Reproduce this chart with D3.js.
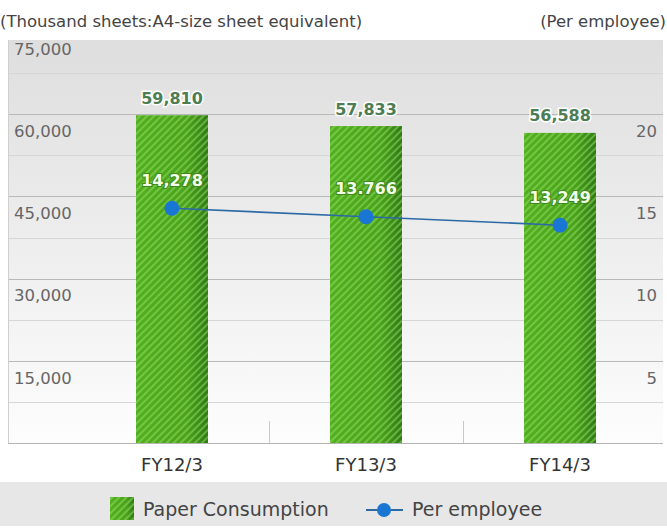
<!DOCTYPE html>
<html>
<head>
<meta charset="utf-8">
<script src="https://cdn.jsdelivr.net/npm/d3@7"></script>
<style>
  body { margin: 0; background: #fff; }
  svg { display: block; font-family: "DejaVu Sans", sans-serif; }
</style>
</head>
<body>
<svg width="667" height="528"></svg>
<script>
// bars = paper consumption (thousand sheets), line = per employee
let categories = ['FY12/3', 'FY13/3', 'FY14/3'];
let paper = [59810, 57833, 56588];
let perEmployee = [14.278, 13.766, 13.249];
let perLabels = ['14,278', '13.766', '13,249'];
let leftTicks = [15000, 30000, 45000, 60000, 75000];
let rightTicks = [5, 10, 15, 20];

let width = 667;
let plotLeft = 8, plotRight = 663, plotTop = 40, plotBottom = 443;

let svg = d3.select('svg');
let defs = svg.append('defs');

let bg = defs.append('linearGradient').attr('id', 'bg')
  .attr('x1', 0).attr('y1', 0).attr('x2', 0).attr('y2', 1);
bg.append('stop').attr('offset', '0%').attr('stop-color', '#dedede');
bg.append('stop').attr('offset', '100%').attr('stop-color', '#fdfdfd');

let barGrad = defs.append('linearGradient').attr('id', 'barGrad')
  .attr('x1', 0).attr('y1', 0).attr('x2', 1).attr('y2', 0);
barGrad.append('stop').attr('offset', '0%').attr('stop-color', '#52b01f');
barGrad.append('stop').attr('offset', '70%').attr('stop-color', '#4aa31b');
barGrad.append('stop').attr('offset', '100%').attr('stop-color', '#2f7a16');

let hatch = defs.append('pattern').attr('id', 'hatch')
  .attr('patternUnits', 'userSpaceOnUse')
  .attr('width', 5).attr('height', 5)
  .attr('patternTransform', 'rotate(45)');
hatch.append('line')
  .attr('x1', 1).attr('y1', 0).attr('x2', 1).attr('y2', 5)
  .attr('stroke', '#9be06a').attr('stroke-width', 1.3).attr('stroke-opacity', 0.75);

let x = d3.scaleBand()
  .domain(categories)
  .range([75, 657])
  .paddingInner(0.629)
  .paddingOuter(0.3145);

let y = d3.scaleLinear().domain([0, 75000]).range([plotBottom, 32]);
let y2 = d3.scaleLinear().domain([0, 25]).range([plotBottom, 32]);

// plot background
svg.append('rect')
  .attr('x', plotLeft).attr('y', plotTop)
  .attr('width', plotRight - plotLeft).attr('height', plotBottom - plotTop)
  .attr('fill', 'url(#bg)');

// grid lines every 7,500 (major at labelled ticks)
let grid = d3.range(7500, 75000, 7500);
svg.append('g').selectAll('line')
  .data(grid)
  .enter()
  .append('line')
  .attr('x1', plotLeft).attr('x2', plotRight)
  .attr('y1', d => Math.round(y(d)) + 0.5)
  .attr('y2', d => Math.round(y(d)) + 0.5)
  .attr('stroke', d => d % 15000 === 0 ? '#b9b9b9' : '#d6d6d6')
  .attr('stroke-width', 1);

svg.append('line')
  .attr('x1', plotLeft + 0.5).attr('x2', plotLeft + 0.5)
  .attr('y1', plotTop).attr('y2', plotBottom)
  .attr('stroke', '#cfcfcf');

// left axis labels
svg.append('g').selectAll('text')
  .data(leftTicks)
  .enter()
  .append('text')
  .attr('x', 14)
  .attr('y', d => y(d) + 17)
  .attr('dy', '0.35em')
  .style('font-size', '16.5px')
  .style('fill', '#666')
  .text(d => d3.format(',')(d));

// right axis labels
svg.append('g').selectAll('text')
  .data(rightTicks)
  .enter()
  .append('text')
  .attr('x', 657)
  .attr('y', d => y2(d) + 17)
  .attr('dy', '0.35em')
  .style('text-anchor', 'end')
  .style('font-size', '16.5px')
  .style('fill', '#666')
  .text(d => d);

// axis titles
svg.append('text')
  .attr('x', 0).attr('y', 21)
  .attr('dy', '0.35em')
  .style('font-size', '16.5px')
  .style('fill', '#444')
  .text('(Thousand sheets:A4-size sheet equivalent)');

svg.append('text')
  .attr('x', 666).attr('y', 21)
  .attr('dy', '0.35em')
  .style('text-anchor', 'end')
  .style('font-size', '16.5px')
  .style('fill', '#444')
  .text('(Per employee)');

// bars
let bars = svg.append('g');
bars.selectAll('rect.bar')
  .data(paper)
  .enter()
  .append('rect')
  .attr('class', 'bar')
  .attr('x', (d, i) => x(categories[i]))
  .attr('y', d => y(d))
  .attr('width', x.bandwidth())
  .attr('height', d => plotBottom - y(d))
  .attr('fill', 'url(#barGrad)');
bars.selectAll('rect.hatch')
  .data(paper)
  .enter()
  .append('rect')
  .attr('class', 'hatch')
  .attr('x', (d, i) => x(categories[i]))
  .attr('y', d => y(d))
  .attr('width', x.bandwidth())
  .attr('height', d => plotBottom - y(d))
  .attr('fill', 'url(#hatch)');

// bottom axis line and category dividers
svg.append('line')
  .attr('x1', plotLeft).attr('x2', plotRight)
  .attr('y1', plotBottom + 0.5).attr('y2', plotBottom + 0.5)
  .attr('stroke', '#b5b5b5');

svg.append('g').selectAll('line')
  .data(categories.slice(1))
  .enter()
  .append('line')
  .attr('x1', d => Math.round(x(d) - x.step() * x.paddingInner() / 2) + 0.5)
  .attr('x2', d => Math.round(x(d) - x.step() * x.paddingInner() / 2) + 0.5)
  .attr('y1', plotBottom - 22).attr('y2', plotBottom)
  .attr('stroke', '#c8c8c8');

svg.append('g').selectAll('text')
  .data(categories)
  .enter()
  .append('text')
  .attr('x', d => x(d) + x.bandwidth() / 2)
  .attr('y', 465)
  .attr('dy', '0.35em')
  .style('text-anchor', 'middle')
  .style('font-size', '18px')
  .style('fill', '#333')
  .text(d => d);

// bar value labels
svg.append('g').selectAll('text')
  .data(paper)
  .enter()
  .append('text')
  .attr('x', (d, i) => x(categories[i]) + x.bandwidth() / 2)
  .attr('y', d => y(d) - 17)
  .attr('dy', '0.35em')
  .style('text-anchor', 'middle')
  .style('font-size', '16px')
  .style('font-weight', 'bold')
  .style('fill', '#4c7d55')
  .style('stroke', '#fff')
  .style('stroke-width', 3)
  .style('paint-order', 'stroke')
  .text(d => d3.format(',')(d));

// per employee line
let line = d3.line()
  .x((d, i) => x(categories[i]) + x.bandwidth() / 2)
  .y(d => y2(d));

svg.append('path')
  .datum(perEmployee)
  .attr('d', line)
  .attr('fill', 'none')
  .attr('stroke', '#2c6aa6')
  .attr('stroke-width', 1.6);

svg.append('g').selectAll('circle')
  .data(perEmployee)
  .enter()
  .append('circle')
  .attr('cx', (d, i) => x(categories[i]) + x.bandwidth() / 2)
  .attr('cy', d => y2(d))
  .attr('r', 7.5)
  .attr('fill', '#1976d2');

svg.append('g').selectAll('text')
  .data(perEmployee)
  .enter()
  .append('text')
  .attr('x', (d, i) => x(categories[i]) + x.bandwidth() / 2)
  .attr('y', d => y2(d) - 28)
  .attr('dy', '0.35em')
  .style('text-anchor', 'middle')
  .style('font-size', '16px')
  .style('font-weight', 'bold')
  .style('fill', '#f2ffe6')
  .style('stroke', '#3f8a1c')
  .style('stroke-width', 2)
  .style('paint-order', 'stroke')
  .text((d, i) => perLabels[i]);

// legend
svg.append('rect')
  .attr('x', 0).attr('y', 482)
  .attr('width', width).attr('height', 44)
  .attr('fill', '#e7e7e7');

let legend = svg.append('g');
legend.append('rect')
  .attr('x', 110).attr('y', 497).attr('width', 24).attr('height', 23)
  .attr('fill', 'url(#barGrad)');
legend.append('rect')
  .attr('x', 110).attr('y', 497).attr('width', 24).attr('height', 23)
  .attr('fill', 'url(#hatch)');
legend.append('text')
  .attr('x', 143).attr('y', 509)
  .attr('dy', '0.35em')
  .style('font-size', '19px')
  .style('fill', '#444')
  .text('Paper Consumption');

legend.append('line')
  .attr('x1', 366).attr('x2', 403)
  .attr('y1', 510).attr('y2', 510)
  .attr('stroke', '#2c6aa6').attr('stroke-width', 2);
legend.append('circle')
  .attr('cx', 384).attr('cy', 510).attr('r', 7)
  .attr('fill', '#1976d2');
legend.append('text')
  .attr('x', 412).attr('y', 509)
  .attr('dy', '0.35em')
  .style('font-size', '19px')
  .style('fill', '#444')
  .text('Per employee');
</script>
</body>
</html>
